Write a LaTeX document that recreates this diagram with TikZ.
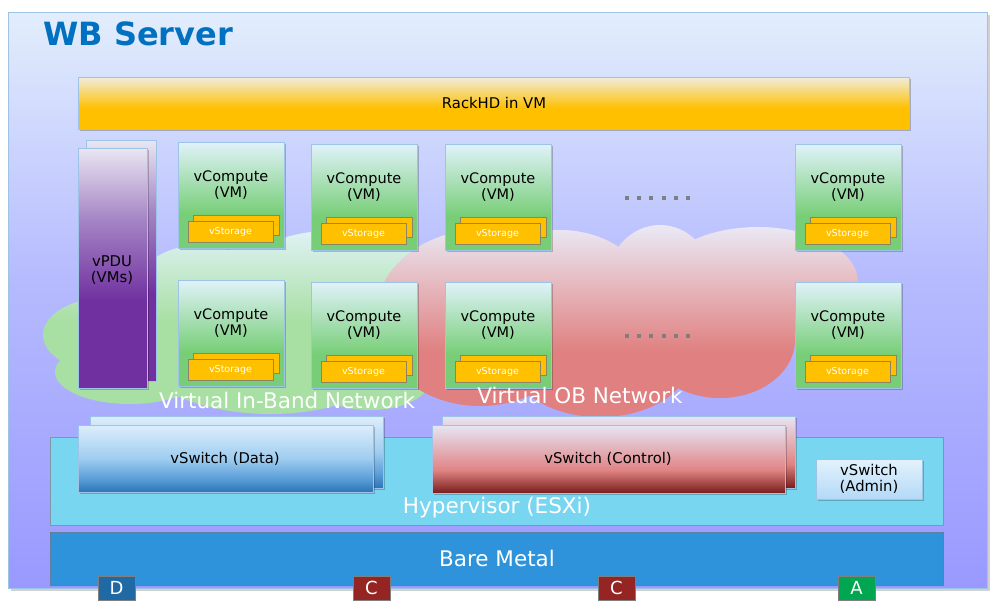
\documentclass[tikz,border=0pt]{standalone}
\usepackage{fontspec}
\setmainfont{DejaVu Sans}
\usetikzlibrary{shadows}

\definecolor{pantop}{HTML}{E2EEFC}
\definecolor{panmid}{HTML}{B6BBFE}
\definecolor{panbot}{HTML}{9999FF}
\definecolor{panborder}{HTML}{9DC3E6}
\definecolor{titleblue}{HTML}{0070C0}
\definecolor{racktop}{HTML}{F0ECDC}
\definecolor{rackgold}{HTML}{FFC000}
\definecolor{pdutop}{HTML}{EAE6F2}
\definecolor{pdumid}{HTML}{A484C4}
\definecolor{pdupur}{HTML}{7030A0}
\definecolor{vct}{HTML}{E0F2FA}
\definecolor{vcg}{HTML}{77CE77}
\definecolor{vcborder}{HTML}{9DC3E6}
\definecolor{storborder}{HTML}{8C8464}
\definecolor{gctop}{HTML}{E0F2F6}
\definecolor{gcg}{HTML}{A8DFA2}
\definecolor{rctop}{HTML}{EAEAF6}
\definecolor{rcr}{HTML}{E08080}
\definecolor{dstop}{HTML}{DDEEFC}
\definecolor{dsmid}{HTML}{9FCDF0}
\definecolor{dsmid2}{HTML}{5A9ED8}
\definecolor{dsbot}{HTML}{2E75B6}
\definecolor{cstop}{HTML}{E6E6F4}
\definecolor{csmid}{HTML}{E08484}
\definecolor{csbot}{HTML}{7A1C1C}
\definecolor{adtop}{HTML}{E4F2FD}
\definecolor{adbot}{HTML}{B3D9F7}
\definecolor{hypc}{HTML}{78D6F0}
\definecolor{hypborder}{HTML}{7F98A8}
\definecolor{barec}{HTML}{2E93DB}
\definecolor{bareborder}{HTML}{5F7F9F}
\definecolor{dotc}{HTML}{7F7F7F}
\definecolor{lblD}{HTML}{1F6AA5}
\definecolor{lblC}{HTML}{952523}
\definecolor{lblA}{HTML}{00A650}

\pgfdeclareverticalshading{panelsh}{100bp}{color(0bp)=(panbot); color(25bp)=(panbot); color(52bp)=(panmid); color(75bp)=(pantop); color(100bp)=(pantop)}
\pgfdeclareverticalshading{racksh}{100bp}{color(0bp)=(rackgold); color(25bp)=(rackgold); color(45bp)=(rackgold); color(75bp)=(racktop); color(100bp)=(racktop)}
\pgfdeclareverticalshading{pdush}{100bp}{color(0bp)=(pdupur); color(25bp)=(pdupur); color(43bp)=(pdupur); color(60bp)=(pdumid); color(75bp)=(pdutop); color(100bp)=(pdutop)}
\pgfdeclareverticalshading{vcompsh}{100bp}{color(0bp)=(vcg); color(25bp)=(vcg); color(41bp)=(vcg); color(75bp)=(vct); color(100bp)=(vct)}
\pgfdeclareverticalshading{greensh}{100bp}{color(0bp)=(gcg); color(25bp)=(gcg); color(50bp)=(gcg); color(75bp)=(gctop); color(100bp)=(gctop)}
\pgfdeclareverticalshading{redsh}{100bp}{color(0bp)=(rcr); color(25bp)=(rcr); color(42bp)=(rcr); color(75bp)=(rctop); color(100bp)=(rctop)}
\pgfdeclareverticalshading{datash}{100bp}{color(0bp)=(dsbot); color(25bp)=(dsbot); color(35bp)=(dsmid2); color(50bp)=(dsmid); color(75bp)=(dstop); color(100bp)=(dstop)}
\pgfdeclareverticalshading{ctrlsh}{100bp}{color(0bp)=(csbot); color(25bp)=(csbot); color(42bp)=(csmid); color(75bp)=(cstop); color(100bp)=(cstop)}
\pgfdeclareverticalshading{adminsh}{100bp}{color(0bp)=(adbot); color(25bp)=(adbot); color(75bp)=(adtop); color(100bp)=(adtop)}

\newcommand\vcomp[3]{%
  \node[vcbox] (#1) at (#2,#3) {};
  \node[vctext] (#1t) at (#2+53,#3+43) {vCompute\\(VM)};
  \node[storback] (#1sb) at (#2+15,#3+73) {};
  \node[storfront] (#1s) at (#2+10,#3+79) {vStorage};
}

\begin{document}
\begin{tikzpicture}[x=1pt,y=-1pt,
  wh/.style 2 args={minimum width=#1pt, minimum height=#2pt},
  box/.style={anchor=north west, inner sep=0pt, outer sep=0pt},
  softshadow/.style={drop shadow={shadow xshift=1.5pt, shadow yshift=-1.5pt, fill=black, opacity=0.22}},
  vcbox/.style={box, wh={106}{106}, draw=vcborder, line width=0.8pt, shade, shading=vcompsh, softshadow},
  vctext/.style={align=center, inner sep=0pt, font=\fontsize{14.5}{16}\selectfont, text=black},
  storback/.style={box, wh={86}{20}, draw=storborder, line width=0.8pt, fill=rackgold},
  storfront/.style={box, wh={85}{21}, draw=storborder, line width=0.8pt, fill=rackgold, text=white, font=\fontsize{9.5}{10}\selectfont},
  bodytext/.style={align=center, inner sep=0pt, font=\fontsize{14.8}{16}\selectfont, text=black},
  bigwhite/.style={inner sep=0pt, text=white, font=\fontsize{21.5}{23}\selectfont},
  lbl/.style={box, wh={37}{24}, draw=dotc, line width=0.6pt, text=white, font=\fontsize{18}{20}\selectfont}
]
\useasboundingbox (0,0) rectangle (995,614);

% main panel
\node[box, wh={979}{576}, draw=panborder, line width=1pt, shade, shading=panelsh,
  drop shadow={shadow xshift=2.5pt, shadow yshift=-3pt, fill=black, opacity=0.18}] (panel) at (8,12) {};
\node[anchor=west, inner sep=0pt, text=titleblue, font=\fontsize{32}{36}\selectfont\bfseries] (title) at (43,34) {WB Server};

% RackHD bar
\node[box, wh={831}{52}, draw=panborder, line width=0.8pt, shade, shading=racksh, softshadow] (rack) at (78,77) {};
\node[bodytext] (rackt) at (494,103) {RackHD in VM};

% clouds
\shade[shading=greensh]
  (110,335) ellipse [x radius=67pt, y radius=38pt]
  (130,372) ellipse [x radius=75pt, y radius=32pt]
  (270,330) ellipse [x radius=150pt, y radius=84pt]
  (340,275) ellipse [x radius=100pt, y radius=45pt]
  (200,300) ellipse [x radius=70pt, y radius=55pt]
  (370,380) ellipse [x radius=60pt, y radius=30pt];
\shade[shading=redsh]
  (480,318) ellipse [x radius=105pt, y radius=88pt]
  (660,280) ellipse [x radius=52pt, y radius=55pt]
  (758,282) ellipse [x radius=100pt, y radius=55pt]
  (600,360) ellipse [x radius=90pt, y radius=57pt]
  (720,340) ellipse [x radius=75pt, y radius=58pt]
  (560,300) ellipse [x radius=90pt, y radius=70pt]
  (640,320) ellipse [x radius=80pt, y radius=60pt];

% vPDU
\node[box, wh={70}{241}, draw=panborder, line width=0.8pt, shade, shading=pdush] (pduback) at (86,140) {};
\node[box, wh={69}{240}, draw=panborder, line width=0.8pt, shade, shading=pdush, softshadow] (pdu) at (78,148) {};
\node[bodytext] (pdut) at (112,270) {vPDU\\(VMs)};

% vCompute boxes
\vcomp{ca}{178}{142}
\vcomp{cb}{311}{144}
\vcomp{cc}{445}{144}
\vcomp{cd}{795}{144}
\vcomp{ce}{178}{280}
\vcomp{cf}{311}{282}
\vcomp{cg}{445}{282}
\vcomp{ch}{795}{282}

% dots
\foreach \i in {0,...,5} {
  \fill[dotc] (625+12.2*\i,196) rectangle ++(4,4);
  \fill[dotc] (625+12.2*\i,334) rectangle ++(4,4);
}

% cloud labels
\node[bigwhite] (ibn) at (287,400) {Virtual In-Band Network};
\node[bigwhite] (obn) at (580,395) {Virtual OB Network};

% hypervisor
\node[box, wh={893}{88}, draw=hypborder, line width=0.8pt, fill=hypc] (hyp) at (50,437) {};
\node[bigwhite] (hypt) at (497,508) {Hypervisor (ESXi)};

% vSwitches
\node[box, wh={293}{72}, draw=panborder, line width=0.8pt, shade, shading=datash, softshadow] (databack) at (90,416) {};
\node[box, wh={295}{67}, draw=panborder, line width=0.8pt, shade, shading=datash, softshadow] (data) at (78,425) {};
\node[bodytext] (datat) at (225,459) {vSwitch (Data)};
\node[box, wh={353}{72}, draw=panborder, line width=0.8pt, shade, shading=ctrlsh, softshadow] (ctrlback) at (442,416) {};
\node[box, wh={353}{68}, draw=panborder, line width=0.8pt, shade, shading=ctrlsh, softshadow] (ctrl) at (432,425) {};
\node[bodytext] (ctrlt) at (608,459) {vSwitch (Control)};
\node[box, wh={106}{40}, draw=panborder, line width=0.8pt, shade, shading=adminsh, softshadow] (admin) at (816,459) {};
\node[bodytext] (admint) at (869,479) {vSwitch\\(Admin)};

% bare metal
\node[box, wh={893}{53}, draw=bareborder, line width=0.8pt, fill=barec] (bare) at (50,532) {};
\node[bigwhite] (baret) at (497,558) {Bare Metal};

% labels
\node[lbl, fill=lblD] (ld) at (98,576) {D};
\node[lbl, fill=lblC] (lc1) at (353,576) {C};
\node[lbl, fill=lblC] (lc2) at (598,576) {C};
\node[lbl, fill=lblA] (la) at (838,576) {A};
\end{tikzpicture}
\end{document}
